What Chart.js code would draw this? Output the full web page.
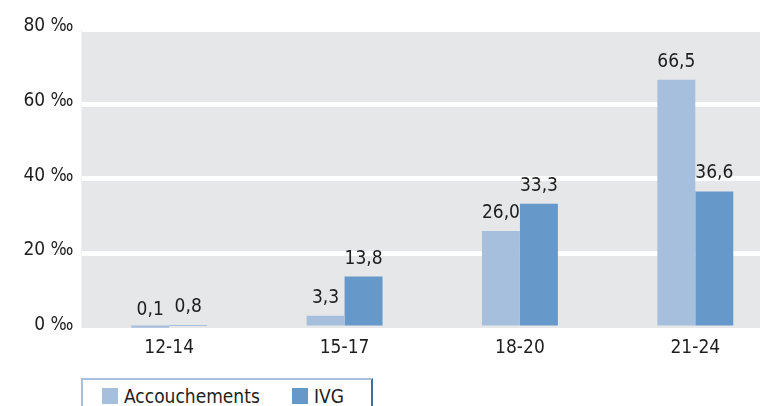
<!DOCTYPE html>
<html>
<head>
<meta charset="utf-8">
<script src="https://cdn.jsdelivr.net/npm/chart.js@4"></script>
<style>
    html, body { margin: 0; padding: 0; background: #fff; overflow: hidden; width: 760px; height: 406px; }
    #wrap { position: relative; width: 783px; height: 363px; }
    #legende {
        position: absolute; left: 81px; top: 378px; width: 288px; height: 40px;
        border-top: 2px solid #a6c0de; border-left: 2px solid #a6c0de; border-right: 2px solid #3f6f9f;
        font-family: 'DejaVu Sans Condensed', 'Liberation Sans Narrow', sans-serif; font-size: 19px; color: #1e1e1e;
    }
    #legende span.item { position: absolute; top: 5px; line-height: 22px; }
    #legende span.box { display: inline-block; width: 16px; height: 16px; vertical-align: -1px; margin-right: 6px; }
</style>
</head>
<body>
<div id="wrap"><canvas id="chartNaissances"></canvas></div>
<div id="legende"></div>
<script>
    // donnees (pour mille)
    var trancheAge = ['12-14', '15-17', '18-20', '21-24'];
    var accouchements = [0.1, 3.3, 26.0, 66.5];
    var ivg = [0.8, 13.8, 33.3, 36.6];
    var yTicks = [0, 20, 40, 60, 80];

    var police = "'DejaVu Sans Condensed', 'Liberation Sans Narrow', sans-serif";
    var couleurTexte = '#1e1e1e';

    function formatVal(v) {
        return v.toFixed(1).replace('.', ',');
    }

    // fond gris de la zone du graphique
    var fondGris = {
        id: 'fondGris',
        beforeDraw: function (chart) {
            var a = chart.chartArea;
            var ctx = chart.ctx;
            ctx.save();
            ctx.fillStyle = '#e6e7e9';
            ctx.fillRect(a.left, a.top, a.right - a.left, a.bottom - a.top);
            ctx.restore();
        }
    };

    // valeurs au-dessus des barres
    var etiquettes = {
        id: 'etiquettes',
        afterDatasetsDraw: function (chart) {
            var ctx = chart.ctx;
            ctx.save();
            ctx.font = '19px ' + police;
            ctx.fillStyle = couleurTexte;
            ctx.textAlign = 'center';
            ctx.textBaseline = 'alphabetic';
            chart.data.datasets.forEach(function (ds, i) {
                chart.getDatasetMeta(i).data.forEach(function (bar, j) {
                    ctx.fillText(formatVal(ds.data[j]), bar.x, bar.y - 13);
                });
            });
            ctx.restore();
        }
    };

    var ctx = document.getElementById('chartNaissances').getContext('2d');
    var chartNaissances = new Chart(ctx, {
        type: 'bar',
        data: {
            labels: trancheAge,
            datasets: [{
                label: 'Accouchements',
                data: accouchements,
                backgroundColor: '#a6bfdd',
                borderWidth: 0
            }, {
                label: 'IVG',
                data: ivg,
                backgroundColor: '#6699c9',
                borderWidth: 0
            }]
        },
        options: {
            responsive: true,
            maintainAspectRatio: false,
            animation: false,
            categoryPercentage: 0.433,
            barPercentage: 1,
            layout: { padding: { top: 29.5, left: 0, right: 0, bottom: 0 } },
            plugins: {
                legend: { display: false },
                tooltip: { enabled: false }
            },
            scales: {
                x: {
                    grid: { display: false },
                    border: { display: false },
                    ticks: { color: couleurTexte, font: { family: police, size: 19 }, padding: 1 },
                    afterFit: function (s) { s.height = 35; }
                },
                y: {
                    min: 0,
                    max: 80,
                    afterBuildTicks: function (s) {
                        s.ticks = yTicks.map(function (v) { return { value: v }; });
                    },
                    grid: {
                        drawTicks: false,
                        lineWidth: 5,
                        color: function (c) { return c.tick && c.tick.value === 0 ? 'rgba(0,0,0,0)' : '#ffffff'; }
                    },
                    border: { display: false },
                    ticks: {
                        padding: 8,
                        labelOffset: -3,
                        color: couleurTexte,
                        font: { family: police, size: 19 },
                        callback: function (v) { return v + ' ‰'; }
                    },
                    afterFit: function (s) { s.width = 81.5; }
                }
            }
        },
        plugins: [fondGris, etiquettes]
    });

    // legende dans un cadre, comme sur l'original
    var legendeHtml = '';
    var positions = [19, 209];
    chartNaissances.data.datasets.forEach(function (ds, i) {
        legendeHtml += '<span class="item" style="left:' + positions[i] + 'px"><span class="box" style="background:' +
            ds.backgroundColor + '"></span>' + ds.label + '</span>';
    });
    document.getElementById('legende').innerHTML = legendeHtml;
</script>
</body>
</html>
